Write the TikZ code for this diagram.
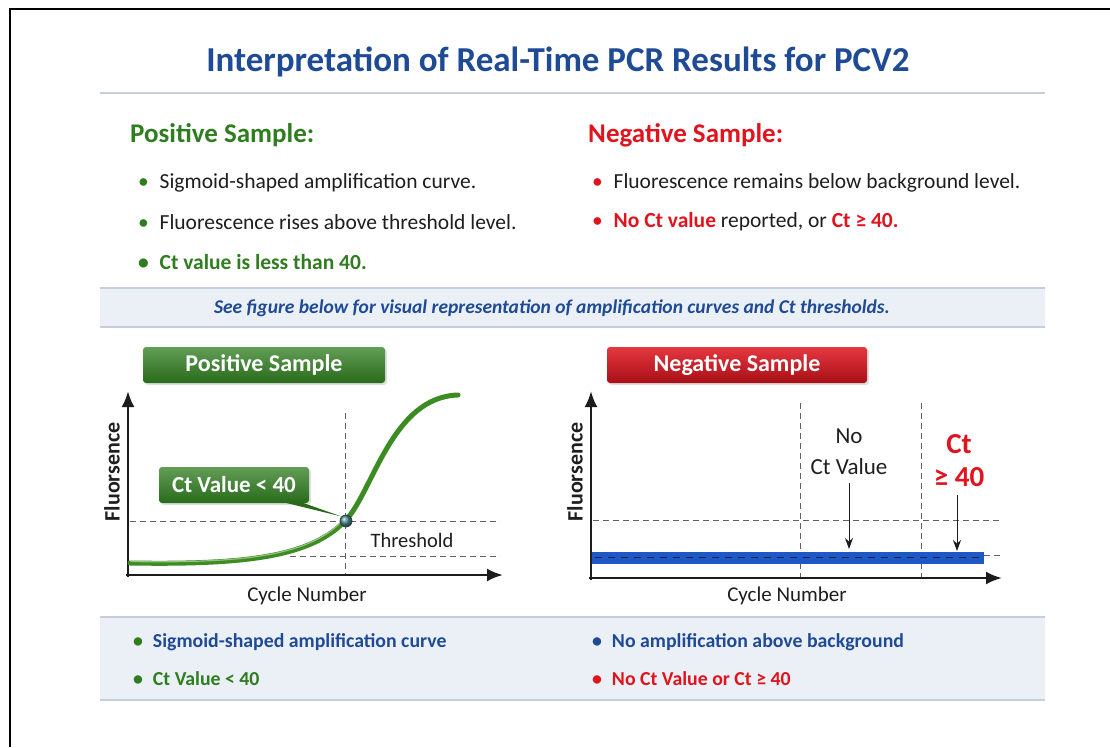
\documentclass[tikz,border=0pt]{standalone}
\usepackage{fontspec}
\setmainfont{Carlito}
\usepackage{xcolor}
\usepackage{tikz}
\usetikzlibrary{positioning,arrows.meta,calc,shadows}

\definecolor{titleblue}{HTML}{1F4A96}
\definecolor{posgreen}{HTML}{2F7D1F}
\definecolor{negred}{HTML}{E0141E}
\definecolor{textdark}{HTML}{1E1E1E}
\definecolor{bandfill}{HTML}{EBF0F6}
\definecolor{bandline}{HTML}{C5CEDC}
\definecolor{axisgray}{HTML}{1C1C1C}
\definecolor{curvegreen}{HTML}{3C8C22}
\definecolor{lowblue}{HTML}{1E58C4}
\definecolor{ctteal}{HTML}{4A8A8C}

\newcommand{\gdot}{\textcolor{posgreen}{•}\enspace}
\newcommand{\rdot}{\textcolor{negred}{•}\enspace}
\newcommand{\bdot}{\textcolor{titleblue}{•}\enspace}

\begin{document}
\begin{tikzpicture}[x=1pt, y=-1pt,
  every node/.style={inner sep=0pt},
  bul/.style={anchor=west, font=\fontsize{21.5}{24}\selectfont, text=textdark},
  sumbul/.style={anchor=west, font=\fontsize{19.8}{23}\selectfont\bfseries},
  head/.style={anchor=west, font=\fontsize{27}{31}\selectfont\bfseries},
  tag/.style={rounded corners=3pt, minimum height=36pt, font=\fontsize{24}{28}\selectfont\bfseries, text=white,
    drop shadow={opacity=0.25, shadow xshift=2pt, shadow yshift=-2pt}},
  band/.style={left color=bandfill, middle color=bandfill!40, right color=bandfill},
  sep/.style={draw=bandline, line width=1.6pt},
  axis/.style={line width=2.6pt, -{Latex[length=16pt,width=13pt]}, draw=axisgray},
  guide/.style={draw=gray!75!black, line width=0.8pt, dash pattern=on 6pt off 4pt},
  down/.style={-{Stealth[length=11pt,width=8pt]}, line width=1pt, draw=axisgray},
  axlabel/.style={font=\fontsize{21}{24}\selectfont, text=textdark}
]
\useasboundingbox (0,0) rectangle (1110,747);
\fill[white] (0,0) rectangle (1110,747);
\draw[line width=2.5pt, black] (10,747) -- (10,9) -- (1110,9);

% title and heads
\node[font=\fontsize{35}{40}\selectfont\bfseries, text=titleblue] (title) at (558,62) {Interpretation of Real-Time PCR Results for PCV2};
\draw[sep] (100,93) -- (1045,93);

\node[head, text=posgreen] (poshead) at (130,135) {Positive Sample:};
\node[bul] (pos1) at (138,183) {\gdot Sigmoid-shaped amplification curve.};
\node[bul, below=39pt of pos1.west, anchor=west] (pos2) {\gdot Fluorescence rises above threshold level.};
\node[bul, below=40pt of pos2.west, anchor=west, text=posgreen, font=\fontsize{21.5}{24}\selectfont\bfseries] (pos3) {\gdot Ct value is less than 40.};

\node[head, text=negred] (neghead) at (588,135) {Negative Sample:};
\node[bul] (neg1) at (592,183) {\rdot Fluorescence remains below background level.};
\node[bul, below=39pt of neg1.west, anchor=west] (neg2) {\rdot\textcolor{negred}{\bfseries No Ct value} reported, or \textcolor{negred}{\bfseries Ct ≥ 40.}};

% note band
\fill[band] (100,288) rectangle (1045,327);
\draw[sep] (100,288) -- (1045,288);
\draw[sep] (100,327) -- (1045,327);
\node[font=\fontsize{19.5}{23}\selectfont\bfseries\itshape, text=titleblue] (note) at (552,308) {See figure below for visual representation of amplification curves and Ct thresholds.};

% positive plot
\node[tag, minimum width=242pt, top color=posgreen!75!white, bottom color=posgreen!85!black] (postag) at (264,365) {Positive Sample};
\draw[guide] (130,521) -- (500,521);
\draw[guide] (290,556) -- (500,556);
\draw[guide] (345,413) -- (345,575);
\draw[axis] (128,577) -- (128,391);
\draw[axis] (126,575) -- (503,575);
\node[axlabel, rotate=90, font=\fontsize{22}{25}\selectfont\bfseries] (posy) at (112,472) {Fluorsence};
\node[axlabel] (posx) at (307,596) {Cycle Number};
\node[axlabel, font=\fontsize{20.5}{24}\selectfont] (thr) at (412,540) {Threshold};
\draw[curvegreen, line width=5pt, line cap=round]
  (130,563) .. controls (250,565) and (312,556) .. (346,520)
  .. controls (373,491) and (392,397) .. (458,395);
\draw[curvegreen!55!white, line width=1.2pt, line cap=round]
  (131,561.5) .. controls (250,563.5) and (312,554.5) .. (344,519);
\node[tag, minimum width=150pt, font=\fontsize{23}{27}\selectfont\bfseries, top color=posgreen!75!white, bottom color=posgreen!85!black] (callout) at (234,485) {Ct Value < 40};
\node[circle, minimum size=12pt, draw=ctteal!50!black, line width=0.8pt, ball color=ctteal] (ct) at (346,521) {};
\fill[posgreen!85!black] ($(callout.south east)+(-26,-1)$) -- (ct.north west) -- ($(callout.south east)+(-8,-1)$) -- cycle;

% negative plot
\node[tag, minimum width=260pt, top color=negred!85!white, bottom color=negred!75!black] (negtag) at (737,365) {Negative Sample};
\draw[guide] (593,520) -- (1000,520);
\draw[guide] (800,403) -- (800,578);
\draw[guide] (921,403) -- (921,578);
\fill[lowblue] (591,552) rectangle (984,564);
\draw[lowblue!40!black, line width=0.8pt, dash pattern=on 7pt off 6pt] (595,557) -- (984,557);
\draw[guide, line width=0.6pt] (984,555) -- (1000,555);
\draw[axis] (591,580) -- (591,391);
\draw[axis] (589,578) -- (1002,578);
\node[axlabel, rotate=90, font=\fontsize{22}{25}\selectfont\bfseries] (negy) at (575,472) {Fluorsence};
\node[axlabel] (negx) at (787,596) {Cycle Number};
\node[axlabel, align=center, font=\fontsize{23}{31}\selectfont] (noct) at (849,452) {No\\Ct Value};
\node[align=center, text=negred, font=\fontsize{29}{33}\selectfont\bfseries] (ct40) at (959,461) {Ct\\≥ 40};
\coordinate (noctend) at (849,549);
\coordinate (ct40end) at (957,551);
\draw[down] ($(noct.south -| noctend)+(0,8)$) -- (noctend);
\draw[down] ($(ct40.south -| ct40end)+(0,8)$) -- (ct40end);

% summary band
\fill[band] (100,617) rectangle (1045,700);
\draw[sep] (100,617) -- (1045,617);
\draw[sep] (100,700) -- (1045,700);
\node[sumbul, text=titleblue] (sum1) at (133,642) {\gdot Sigmoid-shaped amplification curve};
\node[sumbul, text=posgreen, below=37pt of sum1.west, anchor=west] (sum2) {\gdot Ct Value < 40};
\node[sumbul, text=titleblue] (sum3) at (592,642) {\bdot No amplification above background};
\node[sumbul, text=negred, below=37pt of sum3.west, anchor=west] (sum4) {\rdot No Ct Value or Ct ≥ 40};
\end{tikzpicture}
\end{document}
